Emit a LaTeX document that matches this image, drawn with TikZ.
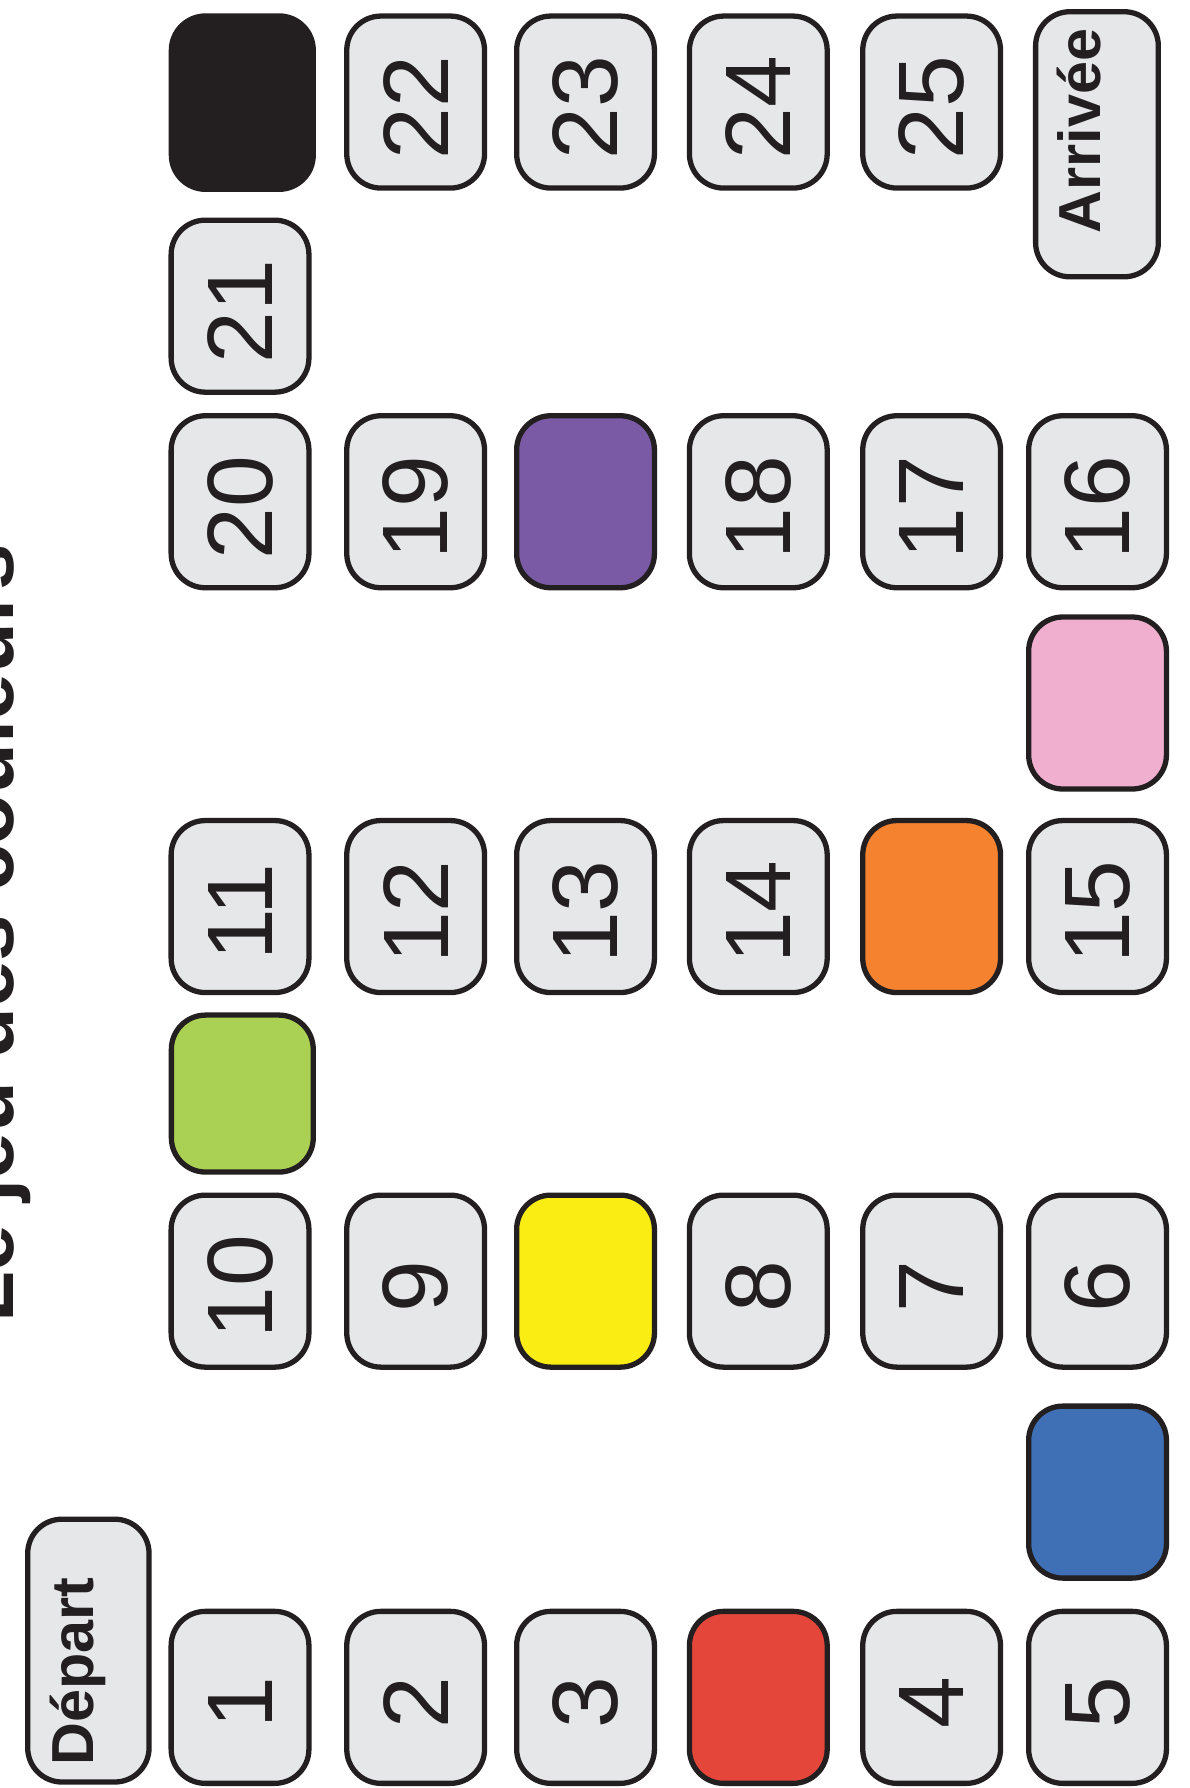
\documentclass[tikz,border=0pt]{standalone}
\usepackage{fontspec}
\setmainfont{Liberation Sans}
\definecolor{ln}{HTML}{231F20}
\definecolor{gr}{HTML}{E6E7E8}
\definecolor{cgreen}{HTML}{ABD154}
\definecolor{cyellow}{HTML}{FAED14}
\definecolor{cred}{HTML}{E4463A}
\definecolor{cblue}{HTML}{3F70B6}
\definecolor{corange}{HTML}{F4822F}
\definecolor{cpink}{HTML}{F0AFCF}
\definecolor{cpurple}{HTML}{7A5AA5}
\tikzset{
  cell/.style={draw=ln, line width=3.3pt, rounded corners=0.75cm, minimum width=3.02cm, minimum height=3.77cm, inner sep=0pt, fill=gr},
  num/.style={font=\fontsize{58}{58}\selectfont, rotate=90, text=ln, inner sep=0pt},
  lab/.style={font=\bfseries\fontsize{37}{37}\selectfont, rotate=90, anchor=base, inner sep=0pt, text=ln},
  ttl/.style={font=\bfseries\fontsize{52}{52}\selectfont, rotate=90, anchor=base, inner sep=0pt, text=ln},
}
\begin{document}
\begin{tikzpicture}[x=0.025cm,y=-0.025cm]
\useasboundingbox[fill=white] (0,0) rectangle (1043,1568);
% title
\node[ttl] (title) at (11.5,818.5) {Le jeu des couleurs};
% start / end
\node[cell, minimum width=2.66cm, minimum height=5.76cm] (depart) at (77.5,1447.5) {};
\node[lab] (tdepart) at (82,1466) {Départ};
\node[cell, minimum width=2.69cm, minimum height=5.81cm] (arrivee) at (962,126.5) {};
\node[lab] (tarrivee) at (965,115) {Arrivée};
% row 1
\node[cell] (c1) at (210.5,1488.5) {};
\node[cell] (c2) at (364.5,1488.5) {};
\node[cell] (c3) at (513.5,1488.5) {};
\node[cell, fill=cred] (red) at (665,1488.5) {};
\node[cell] (c4) at (817,1488.5) {};
\node[cell] (c5) at (962.5,1488.5) {};
\node[cell, fill=cblue] (blue) at (962.5,1308.5) {};
% row 2
\node[cell] (c10) at (210.5,1123.5) {};
\node[cell] (c9) at (364.5,1123.5) {};
\node[cell, fill=cyellow] (yellow) at (513.5,1123.5) {};
\node[cell] (c8) at (665,1123.5) {};
\node[cell] (c7) at (817,1123.5) {};
\node[cell] (c6) at (962.5,1123.5) {};
\node[cell, fill=cgreen, minimum width=3.11cm, minimum height=3.44cm] (green) at (212.5,959) {};
% row 3
\node[cell] (c11) at (210.5,795) {};
\node[cell] (c12) at (364.5,795) {};
\node[cell] (c13) at (513.5,795) {};
\node[cell] (c14) at (665,795) {};
\node[cell, fill=corange] (orange) at (817,795) {};
\node[cell] (c15) at (962.5,795) {};
\node[cell, fill=cpink] (pink) at (962.5,616.5) {};
% row 4
\node[cell] (c20) at (210.5,440) {};
\node[cell] (c19) at (364.5,440) {};
\node[cell, fill=cpurple] (purple) at (513.5,440) {};
\node[cell] (c18) at (665,440) {};
\node[cell] (c17) at (817,440) {};
\node[cell] (c16) at (962.5,440) {};
\node[cell] (c21) at (210.5,268.5) {};
% row 5
\node[cell, fill=ln, minimum width=3.11cm, minimum height=3.8cm] (black) at (212.5,90) {};
\node[cell] (c22) at (364.5,89.5) {};
\node[cell] (c23) at (513.5,89.5) {};
\node[cell] (c24) at (665,89.5) {};
\node[cell] (c25) at (817,89.5) {};
% numbers
\foreach \n in {1,...,25}{
  \node[num] (t\n) at ([yshift=-0.125cm]c\n.center) {\n};
}
\end{tikzpicture}
\end{document}
